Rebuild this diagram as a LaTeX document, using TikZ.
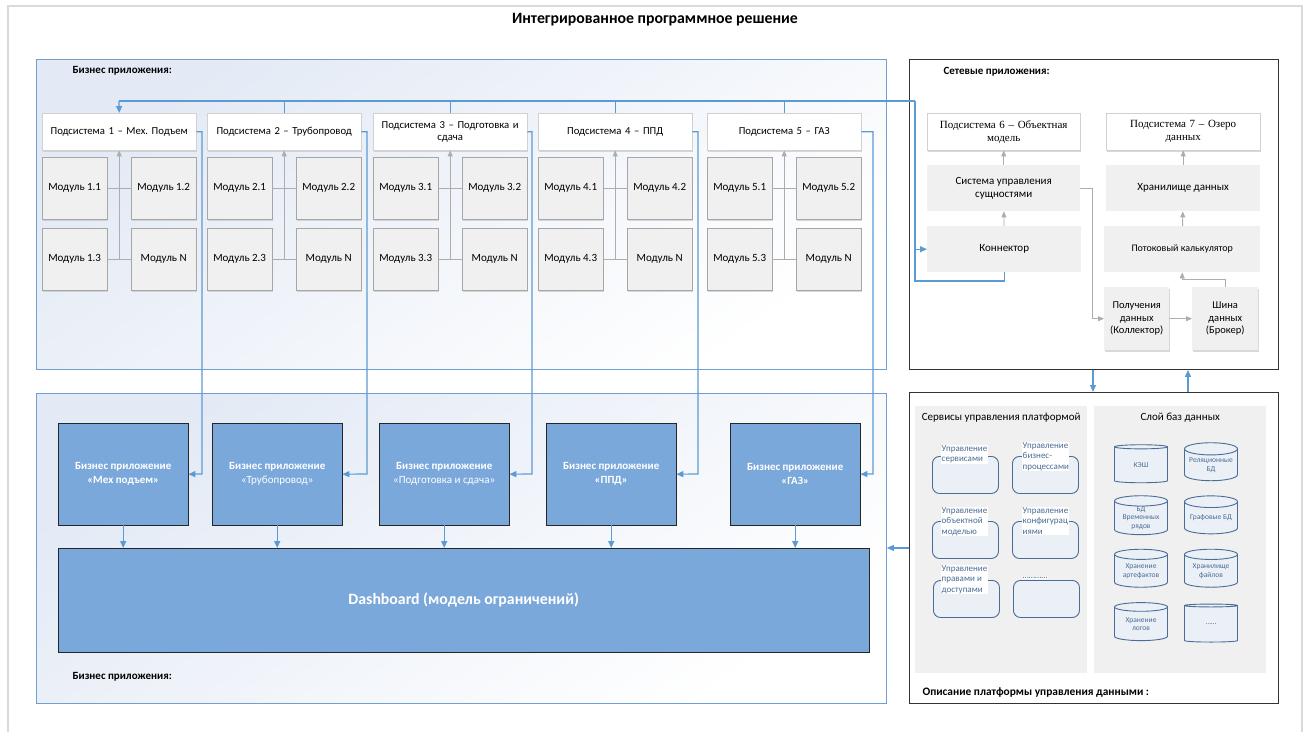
\documentclass[tikz,border=0pt]{standalone}
\usepackage{fontspec}
\setmainfont{Carlito}
\newfontfamily\timesfont{Liberation Serif}
\usetikzlibrary{positioning,arrows.meta,shapes.geometric,shadows}

\definecolor{busblue}{HTML}{5B9BD5}
\definecolor{appblue}{HTML}{7BA8DA}
\definecolor{regionblue}{HTML}{6F9FD3}
\definecolor{regionfill}{HTML}{E3EAF5}
\definecolor{modfill}{HTML}{F0F0F0}
\definecolor{slate}{HTML}{4A6C96}
\definecolor{slatefill}{HTML}{EBF0F7}
\definecolor{framegray}{HTML}{DADADA}

\tikzset{
  boxshadow/.style={drop shadow={shadow xshift=1.2pt,shadow yshift=-1.5pt,fill=black!25,opacity=.6}},
  subbox/.style={anchor=north west,draw=black!18,fill=white,boxshadow,minimum width=154pt,minimum height=37pt,text width=150pt,align=center,inner sep=1pt,font=\fontsize{10.7}{12.5}\selectfont},
  modbox/.style={anchor=north west,draw=black!35,fill=modfill,boxshadow,minimum width=65pt,minimum height=62pt,inner sep=1pt},
  flatbox/.style={anchor=north west,fill=modfill,minimum height=46pt,align=center,inner sep=1pt},
  appbox/.style={anchor=north west,draw=black!85,fill=appblue,text=white,minimum width=130pt,minimum height=102pt,align=center,font=\bfseries\fontsize{11}{14}\selectfont},
  bizregion/.style={anchor=north west,draw=regionblue,line width=0.9pt,top color=regionfill,bottom color=white,shading angle=35,inner sep=0pt},
  netregion/.style={anchor=north west,draw=black!80,line width=0.9pt,fill=white,inner sep=0pt},
  reglabel/.style={anchor=west,font=\bfseries\fontsize{11}{13}\selectfont},
  panel/.style={anchor=north west,fill=modfill,inner sep=0pt},
  rbox/.style={anchor=north west,draw=slate,fill=slatefill,rounded corners=7pt,minimum width=66pt,minimum height=37pt,line width=0.9pt},
  rlabel/.style={anchor=north west,fill=white,text=slate,align=left,inner sep=0.5pt,font=\fontsize{9}{10.5}\selectfont},
  dbcyl/.style={cylinder,shape border rotate=90,aspect=0.28,draw=slate,fill=slatefill,line width=0.9pt,minimum width=53pt,minimum height=38pt,text=slate,align=center,inner sep=0pt,font=\fontsize{7.5}{8.5}\selectfont}
}

\begin{document}
\begin{tikzpicture}[x=1pt,y=-1pt,font=\fontsize{11}{13}\selectfont,
  bus/.style={draw=busblue,line width=1.2pt},
  busarrow/.style={bus,-{Triangle[length=7pt,width=6pt]}},
  gline/.style={draw=black!32,line width=0.9pt},
  garrow/.style={gline,-{Triangle[length=6pt,width=5pt]}}]
\useasboundingbox (0,0) rectangle (1306,731);
\fill[white] (0,0) rectangle (1306,731);
\draw[framegray,line width=1.5pt] (8,760) -- (8,6) -- (1302,6) -- (1302,760);
\node[font=\bfseries\fontsize{15.8}{18}\selectfont] (title) at (655,20) {Интегрированное программное решение};

% regions
\node[bizregion,minimum width=850pt,minimum height=310pt] (rtop) at (36,59) {};
\node[bizregion,minimum width=850pt,minimum height=310pt] (rbot) at (36,393) {};
\node[netregion,minimum width=369pt,minimum height=310pt] (rnet) at (909,59) {};
\node[netregion,minimum width=369pt,minimum height=311pt] (rplat) at (909,392) {};
\node[reglabel] at (69,71) {Бизнес приложения:};
\node[reglabel] at (69,677) {Бизнес приложения:};
\node[reglabel] at (940,72) {Сетевые приложения:};
\node[reglabel,font=\bfseries\fontsize{11.4}{13}\selectfont] at (919,693) {Описание платформы управления данными :};

% subsystems with modules
\foreach \i/\xl/\lx/\ttl in {1/42/202/{Подсистема 1 – Мех.\ Подъем},
    2/207/367/{Подсистема 2 – Трубопровод},
    3/373/532/{Подсистема 3 – Подготовка и\\сдача},
    4/538/698/{Подсистема 4 – ППД},
    5/707/873/{Подсистема 5 – ГАЗ}} {
  \node[subbox] (s\i) at (\xl,113) {\ttl};
  \node[modbox] (m\i-1) at (\xl,157) {Модуль \i.1};
  \node[modbox] (m\i-2) at (\xl+89,157) {Модуль \i.2};
  \node[modbox] (m\i-3) at (\xl,228) {Модуль \i.3};
  \node[modbox] (m\i-4) at (\xl+89,228) {Модуль N};
  \draw[gline] (m\i-1) -- (m\i-2);
  \draw[gline] (m\i-3) -- (m\i-4);
  \draw[garrow] (m\i-3.east -| s\i.south) -- (s\i.south);
  \coordinate (b\i) at (\lx,474);
}

% business applications
\foreach \i/\xl/\ttl in {1/58/{«Мех подъем»},2/212/{\mdseries«Трубопровод»},
    3/379/{\mdseries«Подготовка и сдача»},4/546/{«ППД»},5/730/{«ГАЗ»}}
  \node[appbox] (a\i) at (\xl,423) {Бизнес приложение\\\ttl};
\node[appbox,minimum width=811pt,minimum height=104pt,font=\bfseries\fontsize{15.8}{18}\selectfont] (dash) at (58,548) {Dashboard (модель ограничений)};
\foreach \i in {1,...,5} {
  \draw[busarrow] (s\i.east) -| (b\i) -- (a\i.east);
  \draw[busarrow] (a\i.south) -- (a\i.south |- dash.north);
}

% network applications
\node[subbox,font=\timesfont\fontsize{11}{13}\selectfont,minimum width=153pt] (s6) at (927,113) {Подсистема 6 – Объектная\\модель};
\node[subbox,font=\timesfont\fontsize{11}{13}\selectfont] (s7) at (1106,113) {Подсистема 7 – Озеро\\данных};
\node[flatbox,minimum width=153pt] (ent) at (927,165) {Система управления\\сущностями};
\node[flatbox,minimum width=154pt] (conn) at (927,226) {Коннектор};
\node[flatbox,minimum width=154pt] (dwh) at (1106,165) {Хранилище данных};
\node[flatbox,minimum width=156pt,font=\fontsize{10}{12}\selectfont] (calc) at (1104,226) {Потоковый калькулятор};
\node[flatbox,boxshadow,minimum width=65pt,minimum height=63pt,font=\fontsize{10.5}{12.5}\selectfont] (coll) at (1104,287) {Получения\\данных\\(Коллектор)};
\node[flatbox,boxshadow,minimum width=66pt,minimum height=63pt,font=\fontsize{10.5}{12.5}\selectfont] (brok) at (1192,287) {Шина\\данных\\(Брокер)};
\draw[garrow] (conn) -- (ent);
\draw[garrow] (ent) -- (s6);
\draw[garrow] (calc) -- (dwh);
\draw[garrow] (dwh) -- (s7);
\draw[garrow] (brok.north) -- ++(0,-8) -| (calc.south);
\draw[garrow] (ent.east) -- ++(12,0) |- (coll.west);
\draw[garrow] (coll) -- (brok);

% bus line
\coordinate (busL) at (119,101);
\coordinate (busR) at (915,101);
\coordinate (busB) at (915,281);
\draw[bus] (busR) -- (busL);
\draw[busarrow] (busL) -- (s1.north);
\foreach \i in {2,...,5} \draw[bus] (s\i.north) -- (s\i.north |- busL);
\draw[bus] (busR) -- (busB) -| (conn.south);
\draw[busarrow] (busR |- conn.west) -- (conn.west);

% links between regions
\draw[busarrow] ([xshift=184pt]rnet.south west) -- ([xshift=184pt]rplat.north west);
\draw[busarrow] ([xshift=279pt]rplat.north west) -- ([xshift=279pt]rnet.south west);
\draw[busarrow] (rplat.west) -- (rplat.west -| rbot.east);

% data platform
\node[panel,minimum width=172pt,minimum height=267pt] (svc) at (915,406) {};
\node[panel,minimum width=172pt,minimum height=267pt] (dbl) at (1094,406) {};
\node at ([yshift=-12pt]svc.north) {Сервисы управления платформой};
\node at ([yshift=-12pt]dbl.north) {Слой баз данных};
\foreach \n/\x/\y/\lx/\ly/\lbl in {1/932/456/941/445/{Управление\\сервисами},
    2/1012/456/1022/442/{Управление\\бизнес-\\процессами},
    3/932/521/941/507/{Управление\\объектной\\моделью},
    4/1012/521/1022/507/{Управление\\конфигурац\\иями},
    5/933/580/941/565/{Управление\\правами и\\доступами},
    6/1013/580/1022/577/{…………}} {
  \node[rbox] (r\n) at (\x,\y) {};
  \node[rlabel] (rl\n) at (\lx,\ly) {\lbl};
}
\foreach \n/\x/\y/\lbl in {1/1141/465/КЭШ, 2/1211/465/{Реляционные\\БД},
    3/1141/518/{БД\\Временных\\рядов}, 4/1211/518/{Графовые БД},
    5/1141/571/{Хранение\\артефактов}, 6/1211/571/{Хранилище\\файлов},
    7/1141/624/{Хранение\\логов}, 8/1211/624/{……}}
  \node[dbcyl] (db\n) at (\x,\y) {\lbl};
\end{tikzpicture}
\end{document}
